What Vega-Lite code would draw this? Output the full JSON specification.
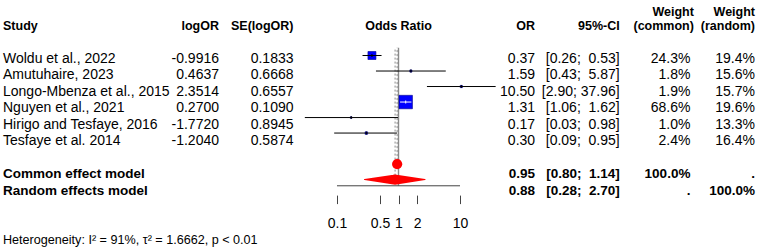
{
  "$schema": "https://vega.github.io/schema/vega-lite/v6.json",
  "background": "white",
  "padding": {"left": 3, "top": 5, "right": 4, "bottom": 0},
  "spacing": 0,
  "bounds": "flush",
  "datasets": {
    "studies": [
      {"study": "Woldu et al., 2022", "logOR": -0.9916, "se": 0.1833, "or": 0.37, "lo": 0.26, "hi": 0.53, "wc": 0.243, "wr": 0.194, "row": 1},
      {"study": "Amutuhaire, 2023", "logOR": 0.4637, "se": 0.6668, "or": 1.59, "lo": 0.43, "hi": 5.87, "wc": 0.018, "wr": 0.156, "row": 2},
      {"study": "Longo-Mbenza et al., 2015", "logOR": 2.3514, "se": 0.6557, "or": 10.50, "lo": 2.90, "hi": 37.96, "wc": 0.019, "wr": 0.157, "row": 3},
      {"study": "Nguyen et al., 2021", "logOR": 0.2700, "se": 0.1090, "or": 1.31, "lo": 1.06, "hi": 1.62, "wc": 0.686, "wr": 0.196, "row": 4},
      {"study": "Hirigo and Tesfaye, 2016", "logOR": -1.7720, "se": 0.8945, "or": 0.17, "lo": 0.03, "hi": 0.98, "wc": 0.010, "wr": 0.133, "row": 5},
      {"study": "Tesfaye et al. 2014", "logOR": -1.2040, "se": 0.5874, "or": 0.30, "lo": 0.09, "hi": 0.95, "wc": 0.024, "wr": 0.164, "row": 6}
    ],
    "pooled": [
      {"model": "Common effect model", "or": 0.95, "lo": 0.80, "hi": 1.14, "wc": 1.0, "wr": null, "row": 8},
      {"model": "Random effects model", "or": 0.88, "lo": 0.28, "hi": 2.70, "wc": null, "wr": 1.0, "row": 9}
    ],
    "heterogeneity": [
      {"I2": 0.91, "tau2": 1.6662, "p": "< 0.01"}
    ]
  },
  "config": {
    "view": {"stroke": null},
    "text": {"font": "Liberation Sans", "fontSize": 14, "color": "black", "baseline": "middle", "dy": 2},
    "title": {"font": "Liberation Sans", "fontSize": 12.5, "fontWeight": "bold", "color": "black", "offset": 7.7, "lineHeight": 14, "frame": "group", "baseline": "bottom"},
    "axisX": {"domain": false, "grid": false, "ticks": true, "tickColor": "#444444", "tickWidth": 1, "tickSize": 8.5, "labelFont": "Liberation Sans", "labelFontSize": 14, "labelColor": "black", "labelPadding": 12.5, "labelFlush": false, "labelOverlap": false, "labelBound": false}
  },
  "hconcat": [
    {
      "width": 169,
      "height": 207.9,
      "title": {"text": "Study", "anchor": "start"},
      "layer": [
        {
          "data": {"name": "studies"},
          "mark": {"type": "text", "align": "left", "x": 0},
          "encoding": {
            "y": {"field": "row", "type": "quantitative", "scale": {"domain": [0, 12.6], "reverse": true}, "axis": null},
            "text": {"field": "study", "type": "nominal"}
          }
        },
        {
          "data": {"name": "pooled"},
          "mark": {"type": "text", "align": "left", "x": 0, "fontWeight": "bold", "fontSize": 13.5},
          "encoding": {
            "y": {"field": "row", "type": "quantitative", "scale": {"domain": [0, 12.6], "reverse": true}, "axis": null},
            "text": {"field": "model", "type": "nominal"}
          }
        },
        {
          "data": {"name": "heterogeneity"},
          "mark": {"type": "text", "align": "left", "x": 0, "fontSize": 12.6, "text": {"expr": "'Heterogeneity: I² = ' + format(datum.I2, '.0%') + ', τ² = ' + format(datum.tau2, '.4f') + ', p ' + datum.p"}},
          "encoding": {
            "y": {"datum": 12, "type": "quantitative", "scale": {"domain": [0, 12.6], "reverse": true}, "axis": null}
          }
        }
      ]
    },
    {
      "width": 47,
      "height": 155.1,
      "title": {"text": "logOR", "anchor": "end"},
      "layer": [
        {
          "data": {"name": "studies"},
          "mark": {"type": "text", "align": "right", "x": "width", "text": {"expr": "(datum.logOR < 0 ? '-' : '') + format(abs(datum.logOR), '.4f')"}},
          "encoding": {
            "y": {"field": "row", "type": "quantitative", "scale": {"domain": [0, 9.4], "reverse": true}, "axis": null}
          }
        }
      ]
    },
    {
      "width": 74.5,
      "height": 155.1,
      "title": {"text": "SE(logOR)", "anchor": "end"},
      "layer": [
        {
          "data": {"name": "studies"},
          "mark": {"type": "text", "align": "right", "x": "width"},
          "encoding": {
            "y": {"field": "row", "type": "quantitative", "scale": {"domain": [0, 9.4], "reverse": true}, "axis": null},
            "text": {"field": "se", "type": "quantitative", "format": ".4f"}
          }
        }
      ]
    },
    {
      "width": 209,
      "height": 155.1,
      "title": {"text": "Odds Ratio", "anchor": "middle"},
      "layer": [
        {
          "data": {"values": [{}]},
          "mark": {"type": "rule", "color": "#8a8a8a", "strokeWidth": 1.4},
          "encoding": {
            "x": {"datum": 1, "type": "quantitative", "scale": {"type": "log", "domain": [0.02, 50], "nice": false}, "axis": {"values": [0.1, 0.5, 1, 2, 10], "format": "~g", "title": null}},
            "y": {"datum": 0.5, "type": "quantitative", "scale": {"domain": [0, 9.4], "reverse": true}, "axis": null},
            "y2": {"datum": 9.4}
          }
        },
        {
          "data": {"name": "pooled"},
          "mark": {"type": "rule", "color": "#8a8a8a", "strokeWidth": 1, "strokeDash": [2, 2]},
          "encoding": {
            "x": {"field": "or", "type": "quantitative", "axis": {"values": [0.1, 0.5, 1, 2, 10], "format": "~g", "title": null}},
            "y": {"field": "row", "type": "quantitative"},
            "y2": {"datum": 0.5}
          }
        },
        {
          "data": {"values": [{}]},
          "mark": {"type": "rule", "color": "#444444", "strokeWidth": 1},
          "encoding": {
            "x": {"datum": 0.1, "type": "quantitative", "axis": {"values": [0.1, 0.5, 1, 2, 10], "format": "~g", "title": null}},
            "x2": {"datum": 10},
            "y": {"datum": 9.4, "type": "quantitative"}
          }
        },
        {
          "data": {"name": "studies"},
          "mark": {"type": "square", "fill": "#0000ff", "stroke": "#00008b", "strokeWidth": 0.6, "opacity": 1, "filled": true},
          "encoding": {
            "x": {"field": "or", "type": "quantitative", "axis": {"values": [0.1, 0.5, 1, 2, 10], "format": "~g", "title": null}},
            "y": {"field": "row", "type": "quantitative"},
            "size": {"field": "wc", "type": "quantitative", "scale": {"domain": [0, 0.686], "range": [0, 181]}, "legend": null}
          }
        },
        {
          "data": {"name": "studies"},
          "mark": {"type": "rule", "strokeWidth": 1},
          "encoding": {
            "x": {"field": "lo", "type": "quantitative", "axis": {"values": [0.1, 0.5, 1, 2, 10], "format": "~g", "title": null}},
            "x2": {"field": "hi"},
            "y": {"field": "row", "type": "quantitative"},
            "color": {"condition": {"test": "61.5 * log(datum.hi / datum.lo) / LN10 <= sqrt(263 * datum.wc)", "value": "white"}, "value": "black"}
          }
        },
        {
          "data": {"name": "studies"},
          "mark": {"type": "tick", "orient": "vertical", "size": 3, "thickness": 1, "opacity": 1},
          "encoding": {
            "x": {"field": "or", "type": "quantitative", "axis": {"values": [0.1, 0.5, 1, 2, 10], "format": "~g", "title": null}},
            "y": {"field": "row", "type": "quantitative"},
            "color": {"condition": {"test": "61.5 * log(datum.hi / datum.lo) / LN10 <= sqrt(263 * datum.wc)", "value": "white"}, "value": "black"}
          }
        },
        {
          "data": {"name": "pooled"},
          "transform": [{"fold": ["lo", "or", "hi"], "as": ["vertex", "v"]}],
          "mark": {"type": "trail", "color": "red", "opacity": 1},
          "encoding": {
            "x": {"field": "v", "type": "quantitative", "axis": {"values": [0.1, 0.5, 1, 2, 10], "format": "~g", "title": null}},
            "y": {"field": "row", "type": "quantitative"},
            "detail": {"field": "model", "type": "nominal"},
            "size": {"condition": {"test": "datum.vertex === 'or'", "value": 10.2}, "value": 0}
          }
        }
      ]
    },
    {
      "width": 32.1,
      "height": 155.1,
      "title": {"text": "OR", "anchor": "end"},
      "layer": [
        {
          "data": {"name": "studies"},
          "mark": {"type": "text", "align": "right", "x": "width"},
          "encoding": {
            "y": {"field": "row", "type": "quantitative", "scale": {"domain": [0, 9.4], "reverse": true}, "axis": null},
            "text": {"field": "or", "type": "quantitative", "format": ".2f"}
          }
        },
        {
          "data": {"name": "pooled"},
          "mark": {"type": "text", "align": "right", "x": "width", "fontWeight": "bold", "fontSize": 13.5},
          "encoding": {
            "y": {"field": "row", "type": "quantitative", "scale": {"domain": [0, 9.4], "reverse": true}, "axis": null},
            "text": {"field": "or", "type": "quantitative", "format": ".2f"}
          }
        }
      ]
    },
    {
      "width": 83.7,
      "height": 155.1,
      "title": {"text": "95%-CI", "anchor": "end"},
      "layer": [
        {
          "data": {"name": "studies"},
          "mark": {"type": "text", "align": "right", "x": "width", "text": {"expr": "'[' + format(datum.lo, '.2f') + ';' + (datum.hi < 10 ? '\u00a0\u00a0' : '\u00a0') + format(datum.hi, '.2f') + ']'"}},
          "encoding": {
            "y": {"field": "row", "type": "quantitative", "scale": {"domain": [0, 9.4], "reverse": true}, "axis": null}
          }
        },
        {
          "data": {"name": "pooled"},
          "mark": {"type": "text", "align": "right", "x": "width", "fontWeight": "bold", "fontSize": 13.5, "text": {"expr": "'[' + format(datum.lo, '.2f') + ';' + (datum.hi < 10 ? '\u00a0\u00a0' : '\u00a0') + format(datum.hi, '.2f') + ']'"}},
          "encoding": {
            "y": {"field": "row", "type": "quantitative", "scale": {"domain": [0, 9.4], "reverse": true}, "axis": null}
          }
        }
      ]
    },
    {
      "width": 70.4,
      "height": 155.1,
      "title": {"text": ["Weight", "(common)"], "anchor": "end", "dx": 3.5},
      "layer": [
        {
          "data": {"name": "studies"},
          "mark": {"type": "text", "align": "right", "x": "width", "text": {"expr": "isValid(datum.wc) ? format(datum.wc, '.1%') : '.'"}},
          "encoding": {
            "y": {"field": "row", "type": "quantitative", "scale": {"domain": [0, 9.4], "reverse": true}, "axis": null}
          }
        },
        {
          "data": {"name": "pooled"},
          "mark": {"type": "text", "align": "right", "x": "width", "fontWeight": "bold", "fontSize": 13.5, "text": {"expr": "isValid(datum.wc) ? format(datum.wc, '.1%') : '.'"}},
          "encoding": {
            "y": {"field": "row", "type": "quantitative", "scale": {"domain": [0, 9.4], "reverse": true}, "axis": null}
          }
        }
      ]
    },
    {
      "width": 64,
      "height": 155.1,
      "title": {"text": ["Weight", "(random)"], "anchor": "end"},
      "layer": [
        {
          "data": {"name": "studies"},
          "mark": {"type": "text", "align": "right", "x": "width", "text": {"expr": "isValid(datum.wr) ? format(datum.wr, '.1%') : '.'"}},
          "encoding": {
            "y": {"field": "row", "type": "quantitative", "scale": {"domain": [0, 9.4], "reverse": true}, "axis": null}
          }
        },
        {
          "data": {"name": "pooled"},
          "mark": {"type": "text", "align": "right", "x": "width", "fontWeight": "bold", "fontSize": 13.5, "text": {"expr": "isValid(datum.wr) ? format(datum.wr, '.1%') : '.'"}},
          "encoding": {
            "y": {"field": "row", "type": "quantitative", "scale": {"domain": [0, 9.4], "reverse": true}, "axis": null}
          }
        }
      ]
    }
  ]
}
